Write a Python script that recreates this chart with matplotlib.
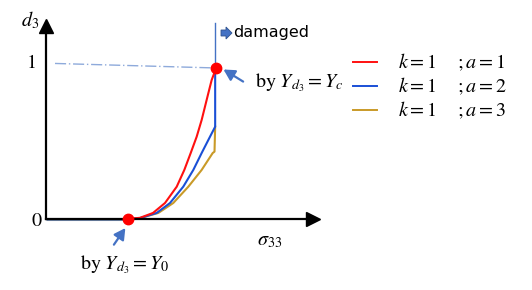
import matplotlib
matplotlib.use("Agg")
import matplotlib.pyplot as plt
from matplotlib.lines import Line2D
from matplotlib.patches import FancyArrow

plt.rcParams['mathtext.fontset'] = 'stix'
plt.rcParams['font.family'] = ['DejaVu Sans']

# ---- data (sigma normalised so that sigma_0 = 1) ----
sigma0 = 1.0
sigmac = 2.08
red_s = [1.0, 1.15, 1.308, 1.455, 1.598, 1.691, 1.769, 1.842, 1.903, 1.984, 2.025, 2.08]
red_d = [0.0, 0.008, 0.040, 0.106, 0.214, 0.325, 0.437, 0.545, 0.656, 0.832, 0.92, 1.0]
blue_s = [1.0, 1.15, 1.353, 1.516, 1.678, 1.801, 1.903, 2.005, 2.068, 2.068]
blue_d = [0.0, 0.006, 0.040, 0.106, 0.214, 0.325, 0.437, 0.545, 0.611, 1.0]
gold_s = [1.0, 1.15, 1.373, 1.556, 1.740, 1.903, 2.038, 2.060, 2.068]
gold_d = [0.0, 0.006, 0.040, 0.106, 0.214, 0.325, 0.437, 0.446, 0.611]
legend_k = ["1", "1", "1"]
legend_a = ["1", "2", "3"]
colors = ["#ff1010", "#1a4fd6", "#c99a28"]

W, H = 532, 290
fig = plt.figure(figsize=(W / 100, H / 100), dpi=100)
ox, oy = 46, 219
ax = fig.add_axes([ox / W, (H - oy) / H, (313 - ox) / W, (oy - 26) / H])
ax.set_xlim(0, 3.264)
ax.set_ylim(0, 1.278)
for s in ['top', 'right']:
    ax.spines[s].set_visible(False)
for s in ['left', 'bottom']:
    ax.spines[s].set_linewidth(1.6)
ax.set_xticks([])
ax.set_yticks([])
ax.patch.set_alpha(0)

# arrow heads on axes
ax.plot(1, 0, marker='>', color='k', markersize=10, transform=ax.transAxes, clip_on=False)
ax.plot(0, 1, marker='^', color='k', markersize=10, transform=ax.transAxes, clip_on=False)

# undamaged region
ax.plot([0, sigma0], [0, 0], color='#6f86a8', lw=2.2, solid_capstyle='butt', clip_on=False)

# reference dash-dot line at d=1
ax.plot([0.11, sigmac], [1.03, 1.0], color='#8eaadb', lw=1.0, linestyle=(0, (8, 2, 1, 2)))
# vertical line marking damaged boundary
ax.plot([2.072, 2.072], [1.0, 1.30], color='#4472c4', lw=1.0, clip_on=False)

ax.plot(gold_s, gold_d, color=colors[2], lw=1.5, solid_joinstyle='round')
ax.plot(blue_s, blue_d, color=colors[1], lw=1.5, solid_joinstyle='round')
ax.plot(red_s, red_d, color=colors[0], lw=1.5, solid_joinstyle='round')

ax.plot([sigma0, sigmac], [0, 1.0], 'o', color='#ff0000', markersize=7.5, clip_on=False, zorder=5)

# annotation arrows
arrow_kw = dict(arrowstyle='-|>,head_length=0.55,head_width=0.3', color='#4472c4', lw=1.6,
                shrinkA=0, shrinkB=0, mutation_scale=12)
ax.annotate('', xy=(0.97, -0.06), xytext=(0.83, -0.17),
            arrowprops=arrow_kw, annotation_clip=False)
ax.annotate('', xy=(2.17, 0.99), xytext=(2.41, 0.91),
            arrowprops=arrow_kw, annotation_clip=False)

def ft(x, y, s, **kw):
    fig.text(x / W, 1 - y / H, s, **kw)

fs = 14.5
ft(21, 20, r'$d_3$', fontsize=fs, ha='left', va='center')
ft(36, 63, r'$1$', fontsize=fs, ha='right', va='center')
ft(43, 221, r'$0$', fontsize=fs, ha='right', va='center')
ft(257, 241, r'$\sigma_{33}$', fontsize=fs, ha='left', va='center')
ft(80, 265, r'$\mathrm{by}\ Y_{d_3} = Y_0$', fontsize=fs, ha='left', va='center')
ft(255, 83, r'$\mathrm{by}\ Y_{d_3} = Y_c$', fontsize=fs, ha='left', va='center')
ft(233, 33, 'damaged', fontsize=11.5, ha='left', va='center')

# block arrow next to "damaged"
fig.add_artist(FancyArrow(221 / W, 1 - 33 / H, 5 / W, 0, width=6 / H, head_width=12 / H,
                          head_length=6 / W, length_includes_head=False,
                          facecolor='#4472c4', edgecolor='#2f528f', lw=0.6,
                          transform=fig.transFigure))

# legend
ys = [62, 86, 110]
for y, c, k, a in zip(ys, colors, legend_k, legend_a):
    fig.add_artist(Line2D([353 / W, 377 / W], [1 - y / H, 1 - y / H], color=c, lw=1.4,
                          transform=fig.transFigure))
    ft(398, y + 1, rf'$k = {k}$', fontsize=fs, ha='left', va='center')
    ft(457, y + 1, rf'$;a = {a}$', fontsize=fs, ha='left', va='center')

fig.savefig('out.png', dpi=100)
